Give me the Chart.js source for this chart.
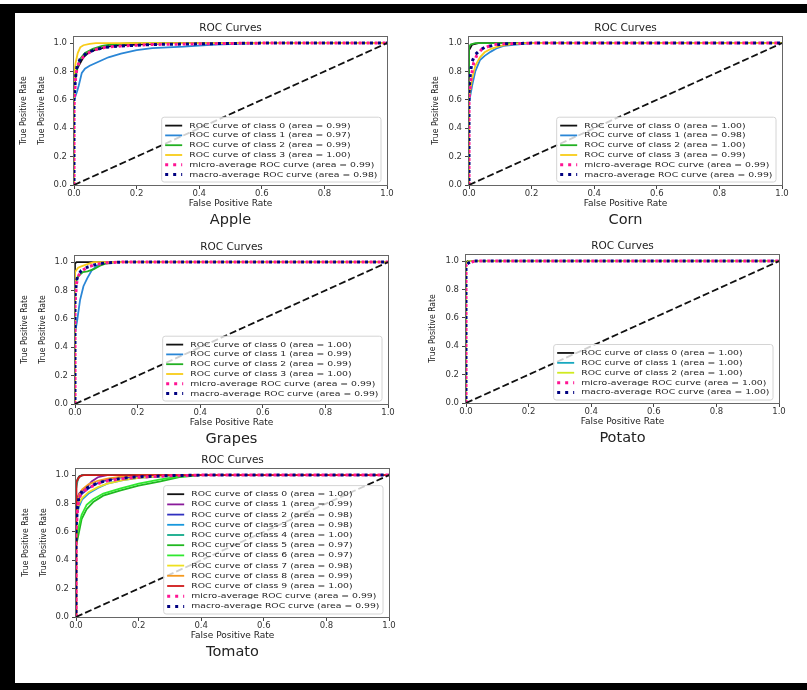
<!DOCTYPE html>
<html>
<head>
<meta charset="utf-8">
<title>ROC Curves</title>
<script src="https://cdn.jsdelivr.net/npm/chart.js@4.4.1/dist/chart.umd.min.js"></script>
<style>
  body { margin: 0; background: #fff; width: 807px; height: 690px; position: relative; overflow: hidden; }
  .bar { position: absolute; background: #000; }
  .plot { position: absolute; }
</style>
</head>
<body>
<div class="bar" style="left:0;top:4px;width:807px;height:9px"></div>
<div class="bar" style="left:0;top:4px;width:15px;height:686px"></div>
<div class="bar" style="left:0;top:683px;width:807px;height:7px"></div>
<script>
// values: per panel, one fpr / tpr list per curve
// (classes first, then micro-average, then macro-average)
const tickValues = [0, 0.2, 0.4, 0.6, 0.8, 1.0];
const chanceLine = [0, 1];

const appleAreas = [0.99, 0.97, 0.99, 1.00, 0.99, 0.98];
const appleFpr = [
  [0, 0, 0.01, 0.03, 0.05, 0.08, 0.12, 0.2, 0.3, 1],
  [0, 0, 0.01, 0.015, 0.025, 0.035, 0.05, 0.08, 0.11, 0.15, 0.2, 0.25, 0.35, 0.45, 0.6, 1],
  [0, 0, 0.01, 0.02, 0.035, 0.06, 0.09, 0.12, 0.18, 1],
  [0, 0, 0.005, 0.012, 0.02, 0.03, 0.05, 0.07, 1],
  [0, 0, 0.005, 0.01, 0.02, 0.04, 0.07, 0.1, 0.15, 0.25, 0.4, 0.6, 1],
  [0, 0, 0.005, 0.01, 0.02, 0.04, 0.07, 0.1, 0.15, 0.25, 0.4, 0.6, 1]
];
const appleTpr = [
  [0, 0.7, 0.82, 0.9, 0.94, 0.96, 0.98, 0.99, 1, 1],
  [0, 0.6, 0.66, 0.7, 0.79, 0.82, 0.84, 0.87, 0.9, 0.925, 0.95, 0.965, 0.975, 0.99, 1, 1],
  [0, 0.72, 0.83, 0.89, 0.93, 0.96, 0.98, 0.99, 1, 1],
  [0, 0.78, 0.86, 0.93, 0.97, 0.985, 0.995, 1, 1],
  [0, 0.55, 0.75, 0.83, 0.88, 0.925, 0.955, 0.97, 0.98, 0.99, 0.995, 1, 1],
  [0, 0.6, 0.76, 0.84, 0.89, 0.93, 0.955, 0.97, 0.98, 0.99, 0.995, 1, 1]
];

const cornAreas = [1.00, 0.98, 1.00, 0.99, 0.99, 0.99];
const cornFpr = [
  [0, 0, 0.01, 0.03, 1],
  [0, 0, 0.01, 0.02, 0.035, 0.05, 0.07, 0.09, 0.11, 0.15, 0.2, 1],
  [0, 0, 0.005, 0.02, 1],
  [0, 0, 0.01, 0.02, 0.035, 0.05, 0.07, 0.1, 0.14, 0.18, 1],
  [0, 0, 0.005, 0.01, 0.015, 0.025, 0.04, 0.06, 0.08, 0.12, 0.2, 1],
  [0, 0, 0.005, 0.01, 0.02, 0.035, 0.05, 0.08, 0.12, 0.2, 1]
];
const cornTpr = [
  [0, 0.95, 0.99, 1, 1],
  [0, 0.58, 0.7, 0.8, 0.88, 0.91, 0.94, 0.965, 0.98, 0.99, 1, 1],
  [0, 0.97, 0.99, 1, 1],
  [0, 0.62, 0.75, 0.84, 0.9, 0.935, 0.96, 0.98, 0.995, 1, 1],
  [0, 0.6, 0.72, 0.8, 0.86, 0.915, 0.955, 0.975, 0.99, 0.995, 1, 1],
  [0, 0.65, 0.8, 0.87, 0.92, 0.95, 0.97, 0.985, 0.995, 1, 1]
];

const grapesAreas = [1.00, 0.99, 0.99, 1.00, 0.99, 0.99];
const grapesFpr = [
  [0, 0, 0.005, 1],
  [0, 0, 0.007, 0.016, 0.027, 0.039, 0.053, 0.07, 0.09, 0.12, 1],
  [0, 0, 0.01, 0.025, 0.04, 0.06, 0.08, 0.1, 0.13, 1],
  [0, 0, 0.01, 0.02, 0.04, 0.06, 1],
  [0, 0, 0.005, 0.01, 0.02, 0.04, 0.07, 0.1, 0.15, 1],
  [0, 0, 0.005, 0.01, 0.02, 0.04, 0.07, 0.1, 0.15, 1]
];
const grapesTpr = [
  [0, 0.99, 1, 1],
  [0, 0.5, 0.59, 0.73, 0.83, 0.885, 0.94, 0.975, 0.995, 1, 1],
  [0, 0.85, 0.9, 0.93, 0.935, 0.95, 0.975, 0.99, 1, 1],
  [0, 0.93, 0.96, 0.97, 0.985, 1, 1],
  [0, 0.7, 0.85, 0.9, 0.935, 0.965, 0.985, 0.995, 1, 1],
  [0, 0.75, 0.87, 0.91, 0.94, 0.965, 0.985, 0.995, 1, 1]
];

const potatoAreas = [1.00, 1.00, 1.00, 1.00, 1.00];
const potatoFpr = [
  [0, 0, 0.005, 1],
  [0, 0, 0.01, 1],
  [0, 0, 0.008, 1],
  [0, 0, 0.01, 0.02, 0.03, 1],
  [0, 0, 0.01, 0.02, 1]
];
const potatoTpr = [
  [0, 0.99, 1, 1],
  [0, 0.98, 1, 1],
  [0, 0.985, 1, 1],
  [0, 0.97, 0.985, 0.995, 1, 1],
  [0, 0.975, 0.99, 1, 1]
];

const tomatoAreas = [1.00, 0.99, 0.98, 0.98, 1.00, 0.97, 0.97, 0.98, 0.99, 1.00, 0.99, 0.99];
const tomatoFpr = [
  [0, 0, 0.005, 0.01, 0.02, 1],
  [0, 0, 0.01, 0.02, 0.035, 0.05, 0.07, 0.1, 1],
  [0, 0, 0.01, 0.02, 0.04, 0.06, 0.09, 0.13, 0.2, 0.3, 1],
  [0, 0, 0.01, 0.02, 0.04, 0.07, 0.1, 0.15, 0.2, 0.3, 0.35, 1],
  [0, 0, 0.005, 0.01, 0.02, 1],
  [0, 0, 0.007, 0.018, 0.034, 0.055, 0.087, 0.14, 0.2, 0.27, 0.33, 0.4, 1],
  [0, 0, 0.007, 0.018, 0.034, 0.055, 0.087, 0.14, 0.2, 0.27, 0.33, 0.38, 1],
  [0, 0, 0.01, 0.02, 0.04, 0.07, 0.1, 0.15, 0.2, 0.28, 0.32, 1],
  [0, 0, 0.01, 0.02, 0.04, 0.07, 0.1, 0.15, 0.2, 1],
  [0, 0, 0.003, 0.008, 0.015, 0.025, 1],
  [0, 0, 0.005, 0.01, 0.02, 0.04, 0.07, 0.1, 0.15, 0.2, 0.3, 0.4, 1],
  [0, 0, 0.005, 0.01, 0.02, 0.04, 0.07, 0.1, 0.15, 0.2, 0.3, 0.4, 1]
];
const tomatoTpr = [
  [0, 0.93, 0.97, 0.99, 1, 1],
  [0, 0.82, 0.87, 0.89, 0.915, 0.955, 0.985, 1, 1],
  [0, 0.78, 0.84, 0.87, 0.905, 0.935, 0.96, 0.98, 0.99, 1, 1],
  [0, 0.7, 0.78, 0.83, 0.87, 0.91, 0.94, 0.965, 0.98, 0.995, 1, 1],
  [0, 0.9, 0.96, 0.985, 1, 1],
  [0, 0.5, 0.57, 0.69, 0.76, 0.81, 0.855, 0.89, 0.925, 0.955, 0.985, 1, 1],
  [0, 0.55, 0.62, 0.72, 0.79, 0.83, 0.87, 0.905, 0.94, 0.97, 0.99, 1, 1],
  [0, 0.72, 0.8, 0.84, 0.88, 0.915, 0.94, 0.965, 0.98, 0.995, 1, 1],
  [0, 0.78, 0.86, 0.9, 0.935, 0.96, 0.975, 0.99, 1, 1],
  [0, 0.9, 0.95, 0.98, 0.995, 1, 1],
  [0, 0.6, 0.76, 0.84, 0.88, 0.91, 0.94, 0.96, 0.975, 0.985, 0.995, 1, 1],
  [0, 0.62, 0.78, 0.85, 0.89, 0.915, 0.945, 0.962, 0.978, 0.988, 0.996, 1, 1]
];

// nipy_spectral picks, like scikit-plot uses
const fourColors = ['#111111', '#2a86d6', '#22b022', '#f8cc18'];
const potatoColors = ['#111111', '#18a8bf', '#d0ea20'];
const tomatoColors = ['#111111', '#8a1a9a', '#3030c0', '#1898dd', '#10aa8a',
                      '#20b820', '#30e830', '#eee020', '#f59a20', '#d01818'];

const panels = [
  { name: 'Apple',  left: 74,  bottom: 185, twoY: true,  rowH: 9.8,  areas: appleAreas,  fpr: appleFpr,  tpr: appleTpr,  colors: fourColors },
  { name: 'Corn',   left: 469, bottom: 185, twoY: false, rowH: 9.8,  areas: cornAreas,   fpr: cornFpr,   tpr: cornTpr,   colors: fourColors },
  { name: 'Grapes', left: 75,  bottom: 404, twoY: true,  rowH: 9.8,  areas: grapesAreas, fpr: grapesFpr, tpr: grapesTpr, colors: fourColors },
  { name: 'Potato', left: 466, bottom: 403, twoY: false, rowH: 9.9,  areas: potatoAreas, fpr: potatoFpr, tpr: potatoTpr, colors: potatoColors },
  { name: 'Tomato', left: 76,  bottom: 617, twoY: true,  rowH: 10.2, areas: tomatoAreas, fpr: tomatoFpr, tpr: tomatoTpr, colors: tomatoColors }
];

Chart.defaults.font.family = '"DejaVu Sans", sans-serif';
const narrow = '"Liberation Sans Narrow", "DejaVu Sans Condensed", sans-serif';

// matplotlib style box round the axes
const frame = {
  id: 'frame',
  afterDatasetsDraw(chart) {
    const a = chart.chartArea, ctx = chart.ctx;
    ctx.save();
    ctx.strokeStyle = '#666';
    ctx.lineWidth = 1;
    ctx.strokeRect(Math.round(a.left) - 0.5, Math.round(a.top) + 0.5,
                   Math.round(a.right - a.left) + 1, Math.round(a.bottom - a.top));
    ctx.restore();
  }
};

// legend drawn inside the axes, lower right
const insideLegend = {
  id: 'insideLegend',
  afterDraw(chart, args, opts) {
    const {ctx, chartArea: a} = chart;
    const items = chart.data.datasets.filter(d => d.label);
    const fs = 9.3, pad = 3.5, handle = 17, gap = 7, rowH = opts.rowH;
    ctx.save();
    ctx.font = fs + 'px "DejaVu Sans"';
    const textW = Math.max(...items.map(d => ctx.measureText(d.label).width));
    const w = pad + handle + gap + textW + pad;
    const h = items.length * rowH + 2 * pad - 1;
    const x0 = a.right - 6 - w, y0 = a.bottom - 3 - h, r = 2.5;
    ctx.beginPath();
    ctx.moveTo(x0 + r, y0);
    ctx.arcTo(x0 + w, y0, x0 + w, y0 + h, r);
    ctx.arcTo(x0 + w, y0 + h, x0, y0 + h, r);
    ctx.arcTo(x0, y0 + h, x0, y0, r);
    ctx.arcTo(x0, y0, x0 + w, y0, r);
    ctx.closePath();
    ctx.fillStyle = 'rgba(255,255,255,0.8)';
    ctx.fill();
    ctx.strokeStyle = '#d4d4d4';
    ctx.lineWidth = 1;
    ctx.stroke();
    items.forEach((d, i) => {
      const cy = y0 + pad + rowH * (i + 0.5);
      ctx.beginPath();
      ctx.setLineDash(d.borderDash || []);
      ctx.lineDashOffset = 0;
      ctx.strokeStyle = d.borderColor;
      ctx.lineWidth = d.borderWidth;
      ctx.moveTo(x0 + pad, cy);
      ctx.lineTo(x0 + pad + handle, cy);
      ctx.stroke();
      ctx.setLineDash([]);
      ctx.save();
      ctx.translate(x0 + pad + handle + gap, cy);
      ctx.scale(1, 0.8);
      ctx.fillStyle = '#222';
      ctx.textBaseline = 'middle';
      ctx.fillText(d.label, 0, 0);
      ctx.restore();
    });
    ctx.restore();
  }
};

function setTicks(scale) {
  scale.ticks = tickValues.map(v => ({ value: v }));
}

panels.forEach(function(p) {
  const leftW = p.twoY ? 58 : 40;
  const div = document.createElement('div');
  div.className = 'plot';
  div.style.left = (p.left - leftW) + 'px';
  div.style.top = (p.bottom - 167) + 'px';
  const canvas = document.createElement('canvas');
  canvas.width = leftW + 313 + 12;
  canvas.height = 211;
  div.appendChild(canvas);
  document.body.appendChild(div);

  const nClasses = p.fpr.length - 2;
  const datasets = p.fpr.map(function(fx, i) {
    const area = p.areas[i].toFixed(2);
    let label, color;
    if (i < nClasses) {
      label = 'ROC curve of class ' + i + ' (area = ' + area + ')';
      color = p.colors[i];
    } else if (i === nClasses) {
      label = 'micro-average ROC curve (area = ' + area + ')';
      color = '#ff1493';
    } else {
      label = 'macro-average ROC curve (area = ' + area + ')';
      color = '#000080';
    }
    const avg = i >= nClasses;
    return {
      label: label,
      data: fx.map((x, j) => ({ x: x, y: p.tpr[i][j] })),
      borderColor: color,
      borderWidth: avg ? 3 : 1.8,
      borderDash: avg ? [3, 5] : [],
      borderDashOffset: i === nClasses + 1 ? 4 : 0,
      borderCapStyle: 'butt',
      order: -i
    };
  });
  // chance diagonal, no legend entry
  datasets.push({
    data: chanceLine.map(v => ({ x: v, y: v })),
    borderColor: '#111',
    borderWidth: 1.8,
    borderDash: [7, 3],
    order: -datasets.length
  });

  const yTitle = { display: true, text: 'True Positive Rate', color: '#222',
                   font: { family: narrow, size: 8.6 } };
  const scales = {
    x: {
      type: 'linear', min: 0, max: 1,
      afterBuildTicks: setTicks,
      ticks: { callback: v => v.toFixed(1), font: { size: 8.5 }, color: '#333', padding: 0, maxRotation: 0 },
      grid: { drawOnChartArea: false, tickLength: 4, color: '#444' },
      border: { display: false },
      title: { display: true, text: 'False Positive Rate', color: '#222', font: { size: 9 }, padding: { top: 0, bottom: 1 } },
      afterFit: s => { s.height = 25; s.paddingLeft = 0; s.paddingRight = 0; }
    },
    y: {
      type: 'linear', min: 0, max: 1.05,
      afterBuildTicks: setTicks,
      ticks: { callback: v => v.toFixed(1), font: { size: 8.5 }, color: '#333', padding: 3 },
      grid: { drawOnChartArea: false, tickLength: 4, color: '#444' },
      border: { display: false },
      title: Object.assign({}, yTitle, { padding: { top: p.twoY ? 2.8 : 1.8, bottom: 0 } }),
      afterFit: s => { s.width = 40; s.paddingTop = 0; s.paddingBottom = 0; }
    }
  };
  if (p.twoY) {
    scales.y2 = {
      type: 'linear', position: 'left', weight: 1,
      ticks: { display: false },
      grid: { display: false },
      border: { display: false },
      title: Object.assign({}, yTitle, { padding: { top: 2.8, bottom: 0 } }),
      afterFit: s => { s.width = 18; s.paddingTop = 0; s.paddingBottom = 0; }
    };
  }

  new Chart(canvas, {
    type: 'line',
    data: { datasets: datasets },
    options: {
      responsive: false,
      animation: false,
      layout: { padding: { left: 0, right: 12, top: 0, bottom: 0 } },
      elements: { point: { radius: 0 }, line: { tension: 0 } },
      scales: scales,
      plugins: {
        legend: { display: false },
        tooltip: { enabled: false },
        title: { display: true, text: 'ROC Curves', fullSize: false, color: '#222',
                 font: { size: 10.5, weight: 'normal' }, padding: { top: 4.4, bottom: 1 } },
        subtitle: { display: true, text: p.name, position: 'bottom', fullSize: false, color: '#222',
                    font: { size: 14.5 }, padding: { top: 1.6, bottom: 0 } },
        insideLegend: { rowH: p.rowH }
      }
    },
    plugins: [frame, insideLegend]
  });
});
</script>
</body>
</html>
